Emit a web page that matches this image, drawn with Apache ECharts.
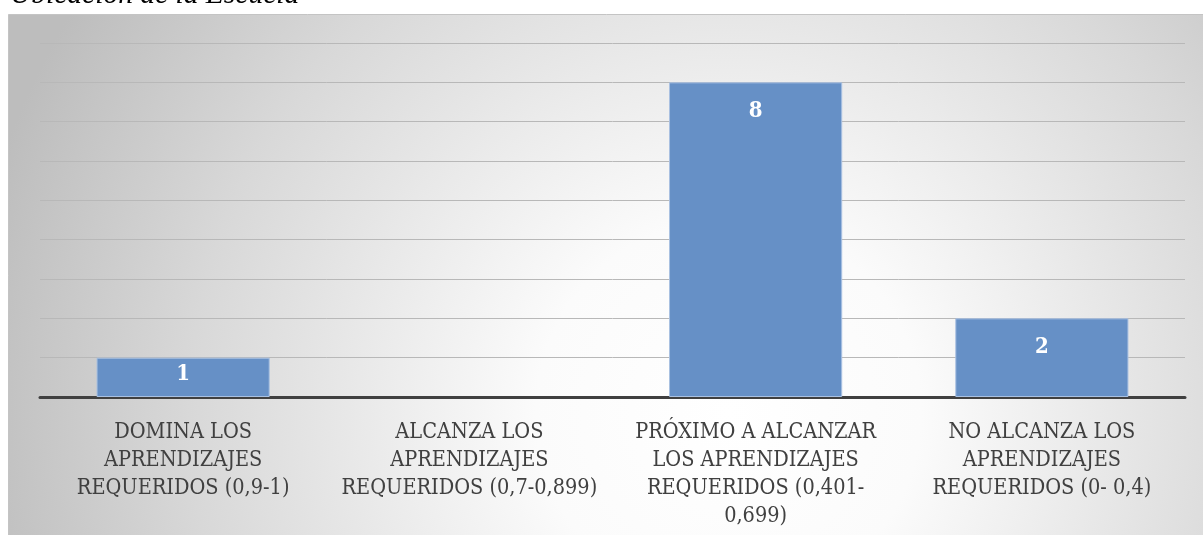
<!DOCTYPE html>
<html>
<head>
<meta charset="utf-8">
<script src="https://cdn.jsdelivr.net/npm/echarts@6/dist/echarts.min.js"></script>
<style>
html,body{margin:0;padding:0;background:#fff;}
#c{width:1203px;height:535px;}
</style>
</head>
<body>
<div id="c"></div>
<script>
var titleText = 'Ubicación de la Escuela';
var categories = [
  'DOMINA LOS\nAPRENDIZAJES\nREQUERIDOS (0,9-1)',
  'ALCANZA LOS\nAPRENDIZAJES\nREQUERIDOS (0,7-0,899)',
  'PRÓXIMO A ALCANZAR\nLOS APRENDIZAJES\nREQUERIDOS (0,401-\n0,699)',
  'NO ALCANZA LOS\nAPRENDIZAJES\nREQUERIDOS (0- 0,4)'
];
var values = [1, 0, 8, 2];
var yMin = 0, yMax = 9, yStep = 1;

var chart = echarts.init(document.getElementById('c'), null, {renderer: 'canvas'});
var serif = '"Liberation Serif", "DejaVu Serif", serif';
var labelFont = '"DejaVu Serif Condensed", "Liberation Serif", serif';

var barData = values.map(function (v) {
  if (v === 0) {
    return {value: v, itemStyle: {borderWidth: 0, opacity: 0}};
  }
  if (v <= 1) {
    return {value: v, label: {distance: 6}};
  }
  return v;
});

chart.setOption({
  animation: false,
  graphic: [
    {
      type: 'rect', z: -10, silent: true,
      shape: {x: 8.5, y: 14.5, width: 1200, height: 530},
      style: {
        fill: {
          type: 'radial', x: 0.6, y: 0.75, r: 1.45,
          colorStops: [
            {offset: 0, color: '#ffffff'},
            {offset: 0.25, color: '#fbfbfb'},
            {offset: 0.7, color: '#d8d8d8'},
            {offset: 1, color: '#bdbdbd'}
          ]
        },
        stroke: '#c4c4c4', lineWidth: 1
      }
    },
    {
      type: 'text', x: 10, y: 5, silent: true, z: -20,
      style: {
        text: titleText,
        font: 'italic 29.5px ' + serif,
        fill: '#000000',
        verticalAlign: 'bottom',
        lineHeight: 20
      }
    }
  ],
  grid: {left: 40, right: 18, top: 43, bottom: 138, containLabel: false},
  xAxis: {
    type: 'category',
    data: categories,
    axisLine: {show: true, lineStyle: {color: '#404040', width: 3}},
    axisTick: {show: false},
    axisLabel: {
      interval: 0,
      margin: 21,
      color: '#404040',
      fontFamily: labelFont,
      fontSize: 21.5,
      lineHeight: 28,
      align: 'center'
    }
  },
  yAxis: {
    type: 'value',
    min: yMin, max: yMax, interval: yStep,
    axisLine: {show: false},
    axisTick: {show: false},
    axisLabel: {show: false},
    splitLine: {show: true, lineStyle: {color: '#b8b8b8', width: 1}}
  },
  series: [{
    type: 'bar',
    data: barData,
    barWidth: '60.5%',
    itemStyle: {color: '#6690c6', borderColor: '#a9c1e2', borderWidth: 1},
    label: {
      show: true,
      position: 'insideTop',
      distance: 18,
      color: '#ffffff',
      fontFamily: labelFont,
      fontWeight: 'bold',
      fontSize: 22,
      formatter: function (p) { return p.value > 0 ? String(p.value) : ''; }
    }
  }]
});
</script>
</body>
</html>
